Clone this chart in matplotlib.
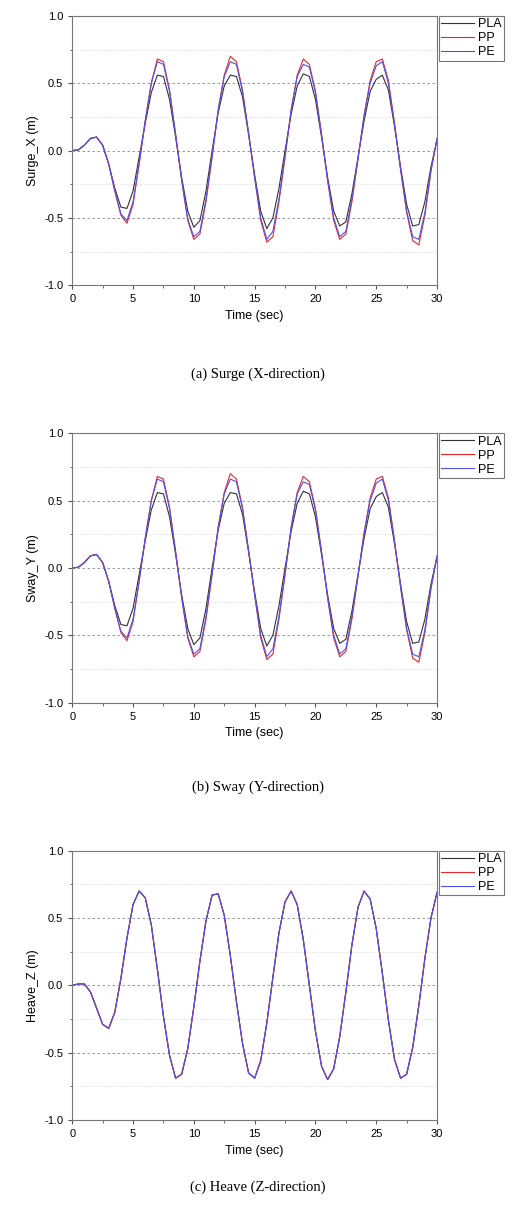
import numpy as np
import matplotlib
matplotlib.use("Agg")
import matplotlib.pyplot as plt
from matplotlib.ticker import MultipleLocator

plt.rcParams['font.family'] = ['Liberation Sans', 'DejaVu Sans']

time_sec = [i * 0.5 for i in range(61)]

surge_pla = [0, 0.005, 0.04, 0.09, 0.10, 0.04, -0.1, -0.28, -0.42, -0.43, -0.3, -0.05, 0.2, 0.43, 0.56, 0.55, 0.38, 0.1, -0.2, -0.45, -0.57, -0.52, -0.3, 0.0, 0.28, 0.48, 0.56, 0.55, 0.4, 0.12, -0.18, -0.45, -0.58, -0.5, -0.28, 0.0, 0.27, 0.48, 0.57, 0.55, 0.38, 0.1, -0.2, -0.45, -0.56, -0.53, -0.32, -0.05, 0.22, 0.44, 0.53, 0.56, 0.45, 0.18, -0.12, -0.4, -0.56, -0.55, -0.38, -0.12, 0.08]
surge_pp = [0, 0.005, 0.04, 0.09, 0.10, 0.04, -0.1, -0.3, -0.48, -0.54, -0.4, -0.1, 0.22, 0.5, 0.68, 0.66, 0.45, 0.12, -0.22, -0.52, -0.66, -0.62, -0.38, -0.05, 0.3, 0.56, 0.70, 0.66, 0.45, 0.13, -0.2, -0.52, -0.68, -0.64, -0.38, -0.05, 0.3, 0.56, 0.68, 0.64, 0.44, 0.12, -0.22, -0.52, -0.66, -0.62, -0.38, -0.06, 0.26, 0.52, 0.66, 0.68, 0.52, 0.2, -0.14, -0.46, -0.67, -0.70, -0.48, -0.15, 0.09]
surge_pe = [0, 0.005, 0.04, 0.09, 0.10, 0.04, -0.1, -0.3, -0.47, -0.52, -0.38, -0.1, 0.22, 0.5, 0.66, 0.64, 0.44, 0.12, -0.22, -0.51, -0.64, -0.6, -0.36, -0.04, 0.3, 0.55, 0.66, 0.64, 0.44, 0.13, -0.2, -0.5, -0.66, -0.6, -0.36, -0.04, 0.3, 0.55, 0.64, 0.62, 0.43, 0.12, -0.22, -0.5, -0.64, -0.6, -0.36, -0.06, 0.26, 0.5, 0.63, 0.66, 0.5, 0.2, -0.14, -0.45, -0.64, -0.66, -0.46, -0.15, 0.09]

sway_pla = list(surge_pla)
sway_pp = list(surge_pp)
sway_pe = list(surge_pe)

heave_pla = [0, 0.01, 0.01, -0.05, -0.17, -0.29, -0.32, -0.2, 0.05, 0.35, 0.6, 0.7, 0.65, 0.45, 0.12, -0.23, -0.52, -0.69, -0.66, -0.47, -0.16, 0.18, 0.48, 0.67, 0.68, 0.52, 0.22, -0.12, -0.43, -0.65, -0.69, -0.56, -0.28, 0.06, 0.39, 0.62, 0.7, 0.6, 0.34, 0.0, -0.34, -0.6, -0.7, -0.62, -0.38, -0.05, 0.3, 0.58, 0.7, 0.64, 0.42, 0.09, -0.26, -0.55, -0.69, -0.66, -0.46, -0.15, 0.2, 0.5, 0.69]
heave_pp = list(heave_pla)
heave_pe = list(heave_pla)

series_names = ["PLA", "PP", "PE"]
series_colors = ["#333333", "#e8262a", "#5050f0"]
ylabels = ["Surge_X (m)", "Sway_Y (m)", "Heave_Z (m)"]
captions = ["(a) Surge (X-direction)", "(b) Sway (Y-direction)", "(c) Heave (Z-direction)"]
panels = [(surge_pla, surge_pp, surge_pe), (sway_pla, sway_pp, sway_pe), (heave_pla, heave_pp, heave_pe)]

fig = plt.figure(figsize=(5.16, 12.24), dpi=100)
bottoms = [0.767, 0.426, 0.085]
caption_y = [1 - 374 / 1224, 1 - 787 / 1224, 1 - 1187 / 1224]
for k, data in enumerate(panels):
    ax = fig.add_axes([0.140, bottoms[k], 0.707, 0.220])
    lines = {}
    for i in [0, 1, 2]:
        ln, = ax.plot(time_sec, data[i], color=series_colors[i], lw=0.8, label=series_names[i])
        lines[i] = ln
    ax.set_xlim(0, 30)
    ax.set_ylim(-1.0, 1.0)
    ax.xaxis.set_major_locator(MultipleLocator(5))
    ax.xaxis.set_minor_locator(MultipleLocator(2.5))
    ax.yaxis.set_major_locator(MultipleLocator(0.5))
    ax.yaxis.set_minor_locator(MultipleLocator(0.25))
    for v in [-0.5, 0.0, 0.5]:
        ax.axhline(v, color="#888888", lw=0.6, ls=(0, (3, 3)), zorder=0)
    for v in [-0.75, -0.25, 0.25, 0.75]:
        ax.axhline(v, color="#cccccc", lw=0.6, ls=(0, (1, 2)), zorder=0)
    ax.yaxis.set_major_formatter(matplotlib.ticker.FormatStrFormatter("%.1f"))
    ax.tick_params(labelsize=8, length=3, color="#555555", direction="out")
    ax.tick_params(which="minor", length=1.8, color="#555555")
    for s in ax.spines.values():
        s.set_color("#777777")
    ax.set_xlabel("Time (sec)", fontsize=9)
    ax.set_ylabel(ylabels[k], fontsize=9)
    leg = ax.legend([lines[0], lines[1], lines[2]], series_names, loc="upper left",
                    bbox_to_anchor=(1.005, 1.0), fontsize=9, frameon=True, fancybox=False,
                    borderaxespad=0, handlelength=2.6, handletextpad=0.3, borderpad=0.2,
                    labelspacing=0.15)
    leg.get_frame().set_edgecolor("#555555")
    leg.get_frame().set_linewidth(0.8)
    fig.text(0.5, caption_y[k], captions[k], ha="center", va="center",
             fontsize=10.5, family="Liberation Serif")

fig.savefig("out.png", dpi=100)
